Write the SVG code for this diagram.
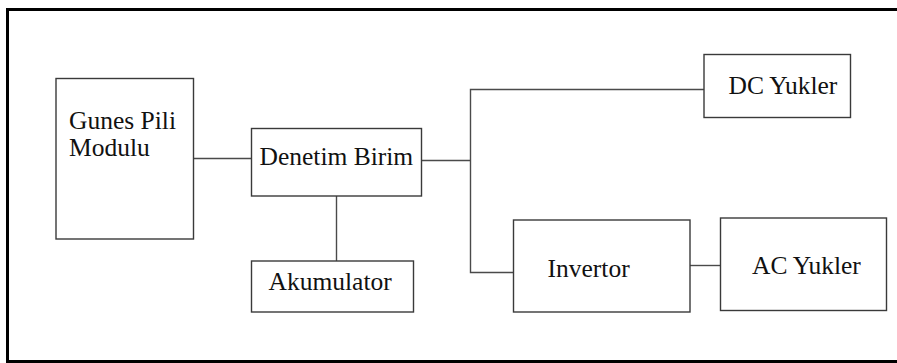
<svg xmlns="http://www.w3.org/2000/svg" width="897" height="363" viewBox="0 0 897 363">
  <style>
    .box { fill: #ffffff; stroke: #3a3a3a; stroke-width: 1.4; }
    .wire { fill: none; stroke: #4a4a4a; stroke-width: 1.4; }
    .label { font-family: "Liberation Serif", "Times New Roman", serif; font-size: 25.5px; fill: #111111; }
  </style>
  <rect width="897" height="363" fill="#ffffff"/>
  <!-- outer frame -->
  <rect x="7.5" y="9.5" width="900" height="352" fill="none" stroke="#000000" stroke-width="3"/>

  <g id="connectors">
    <line class="wire" x1="194" y1="158.5" x2="251" y2="158.5"/>
    <line class="wire" x1="336.5" y1="196" x2="336.5" y2="261"/>
    <line class="wire" x1="422" y1="160.5" x2="470.5" y2="160.5"/>
    <polyline class="wire" points="704,89.5 470.5,89.5 470.5,272.5 513,272.5"/>
    <line class="wire" x1="690" y1="265.5" x2="720" y2="265.5"/>
  </g>

  <g id="gunes-pili">
    <rect class="box" x="56" y="78.5" width="137.5" height="160.5"/>
    <text class="label" x="69" y="129">Gunes Pili</text>
    <text class="label" x="69" y="156">Modulu</text>
  </g>

  <g id="denetim-birim">
    <rect class="box" x="251.5" y="128.5" width="170" height="67.5"/>
    <text class="label" x="259.5" y="165">Denetim Birim</text>
  </g>

  <g id="akumulator">
    <rect class="box" x="251.5" y="261" width="162" height="51"/>
    <text class="label" x="268.5" y="290">Akumulator</text>
  </g>

  <g id="dc-yukler">
    <rect class="box" x="704" y="54.5" width="146.5" height="63"/>
    <text class="label" x="728.5" y="94">DC Yukler</text>
  </g>

  <g id="invertor">
    <rect class="box" x="513.5" y="220" width="176.5" height="92"/>
    <text class="label" x="547.5" y="276.5">Invertor</text>
  </g>

  <g id="ac-yukler">
    <rect class="box" x="720.5" y="218" width="166" height="92.5"/>
    <text class="label" x="752" y="274">AC Yukler</text>
  </g>
</svg>
